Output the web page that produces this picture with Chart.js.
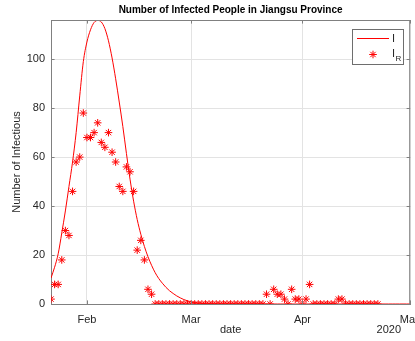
<!DOCTYPE html>
<html>
<head>
<meta charset="utf-8">
<script src="https://cdn.jsdelivr.net/npm/chart.js@4/dist/chart.umd.min.js"></script>
<style>
  html, body { margin: 0; padding: 0; background: #fff; }
  #wrap { width: 415px; height: 341px; }
</style>
</head>
<body>
<div id="wrap"><canvas id="c" width="415" height="341"></canvas></div>
<script>
// Day index 0 = 22 Jan 2020
const startDate = '2020-01-22';

// Reported infectious counts (I_R), one value per day from 22 Jan to 22 Apr
const observedI = [
  2, 8, 8, 18, 30, 28, 46, 58, 60, 78,
  68, 68, 70, 74, 66, 64, 70, 62, 58, 48,
  46, 56, 54, 46, 22, 26, 18, 6, 4, 0,
  0, 0, 0, 0, 0, 0, 0, 0, 0, 0,
  0, 0, 0, 0, 0, 0, 0, 0, 0, 0,
  0, 0, 0, 0, 0, 0, 0, 0, 0, 0,
  4, 0, 6, 4, 4, 2, 0, 6, 2, 2,
  0, 2, 8, 0, 0, 0, 0, 0, 0, 0,
  2, 2, 0, 0, 0, 0, 0, 0, 0, 0,
  0, 0
];

// Fitted model curve (I), one value per day from 22 Jan to 1 May
const modelI = [
  10.6, 15, 20.5, 29, 38, 48, 58, 70, 85, 99,
  107, 112, 115, 115.8, 115.2, 112.5, 107.5, 100.5, 92, 82.5,
  72.5, 61.5, 51, 42, 34.5, 28.5, 23.5, 19.3, 15.8, 12.8,
  10.4, 8.5, 6.8, 5.4, 4.3, 3.3, 2.5, 1.8, 1.3, 0.9,
  0.6, 0.4, 0.25, 0.15, 0.1, 0.05, 0, 0, 0, 0,
  0, 0, 0, 0, 0, 0, 0, 0, 0, 0,
  0, 0, 0, 0, 0, 0, 0, 0, 0, 0,
  0, 0, 0, 0, 0, 0, 0, 0, 0, 0,
  0, 0, 0, 0, 0, 0, 0, 0, 0, 0,
  0, 0, 0, 0, 0, 0, 0, 0, 0, 0,
  0
];

// Month ticks (day index of the 1st of each month) and their labels
const monthTickDays = [10, 39, 70, 100];
const monthTickLabels = ['Feb', 'Mar', 'Apr', 'May'];
const yTickValues = [0, 20, 40, 60, 80, 100];

const FONT = '"Liberation Sans", Arial, Helvetica, sans-serif';
const RED = '#ff0000';
const AXIS_GRAY = '#808080';
const TEXT = '#262626';

// Frame, inward tick marks, title, legend and year label
const decorations = {
  id: 'decorations',
  afterDatasetsDraw(chart) {
    const { ctx, chartArea: a, scales } = chart;
    ctx.save();
    ctx.strokeStyle = AXIS_GRAY;
    ctx.lineWidth = 1;
    ctx.beginPath();
    ctx.moveTo(a.left, a.top + 0.5); ctx.lineTo(a.right, a.top + 0.5);
    ctx.moveTo(a.right - 0.5, a.top); ctx.lineTo(a.right - 0.5, a.bottom);
    monthTickDays.forEach(d => {
      const px = Math.round(scales.x.getPixelForValue(d)) + 0.5;
      ctx.moveTo(px, a.bottom); ctx.lineTo(px, a.bottom - 3.6);
      ctx.moveTo(px, a.top); ctx.lineTo(px, a.top + 3.6);
    });
    yTickValues.forEach(v => {
      const py = Math.round(scales.y.getPixelForValue(v)) + 0.5;
      ctx.moveTo(a.left, py); ctx.lineTo(a.left + 3.6, py);
      ctx.moveTo(a.right, py); ctx.lineTo(a.right - 3.6, py);
    });
    ctx.stroke();

    // legend
    const bx = 352.5, by = 29.5, bw = 51, bh = 35;
    ctx.fillStyle = '#fff';
    ctx.fillRect(bx, by, bw, bh);
    ctx.strokeStyle = '#6e6e6e';
    ctx.strokeRect(bx, by, bw, bh);
    ctx.strokeStyle = RED;
    ctx.beginPath();
    ctx.moveTo(357, 38.5); ctx.lineTo(389, 38.5);
    ctx.stroke();
    Chart.helpers.drawPoint(ctx, { pointStyle: 'star', radius: 3.8, borderWidth: 1 }, 373, 54.5);
    ctx.fillStyle = TEXT;
    ctx.textBaseline = 'middle';
    ctx.textAlign = 'left';
    ctx.font = '11px ' + FONT;
    ctx.fillText('I', 392, 38.5);
    ctx.fillText('I', 392, 54);
    ctx.font = '8px ' + FONT;
    ctx.fillText('R', 395.5, 58.5);

    // title
    ctx.fillStyle = '#000';
    ctx.textAlign = 'center';
    ctx.font = 'bold 10px ' + FONT;
    ctx.fillText('Number of Infected People in Jiangsu Province', (a.left + a.right) / 2, 10);

    // year under the last month tick
    ctx.fillStyle = TEXT;
    ctx.textAlign = 'right';
    ctx.font = '11px ' + FONT;
    ctx.fillText('2020', 401, 330);
    ctx.restore();
  }
};

new Chart(document.getElementById('c'), {
  type: 'scatter',
  data: {
    datasets: [
      {
        label: 'I',
        type: 'line',
        data: modelI.map((v, i) => ({ x: i, y: v })),
        borderColor: RED,
        borderWidth: 1,
        pointRadius: 0,
        cubicInterpolationMode: 'monotone',
        fill: false,
        order: 2
      },
      {
        label: 'I_R',
        data: observedI.map((v, i) => ({ x: i, y: v })),
        showLine: false,
        pointStyle: 'star',
        pointRadius: 3.8,
        pointHoverRadius: 3.8,
        borderColor: RED,
        backgroundColor: RED,
        pointBorderWidth: 1,
        order: 1
      }
    ]
  },
  options: {
    responsive: false,
    animation: false,
    devicePixelRatio: 1,
    layout: { padding: { left: 0, right: 4, top: 20, bottom: 0 } },
    plugins: {
      legend: { display: false },
      title: { display: false },
      tooltip: { enabled: false }
    },
    scales: {
      x: {
        type: 'linear',
        min: 0,
        max: 100,
        afterBuildTicks: s => { s.ticks = monthTickDays.map(v => ({ value: v })); },
        afterFit: s => { s.height = 37; s.paddingLeft = 0; s.paddingRight = 0; },
        grid: { color: '#e3e3e3', drawTicks: false },
        border: { display: true, color: AXIS_GRAY, width: 1 },
        ticks: {
          autoSkip: false,
          maxRotation: 0,
          padding: 9,
          color: TEXT,
          font: { family: FONT, size: 11 },
          callback: v => monthTickLabels[monthTickDays.indexOf(v)]
        },
        title: {
          display: true,
          text: 'date',
          color: TEXT,
          font: { family: FONT, size: 11 },
          padding: { top: 0, bottom: 4 }
        }
      },
      y: {
        min: 0,
        max: 116,
        afterBuildTicks: s => { s.ticks = yTickValues.map(v => ({ value: v })); },
        afterFit: s => { s.width = 51; s.paddingTop = 0; s.paddingBottom = 0; },
        grid: { color: '#e3e3e3', drawTicks: false },
        border: { display: true, color: AXIS_GRAY, width: 1 },
        ticks: {
          padding: 6,
          color: TEXT,
          font: { family: FONT, size: 11 }
        },
        title: {
          display: true,
          text: 'Number of Infectious',
          color: TEXT,
          font: { family: FONT, size: 11 },
          padding: { top: 10, bottom: 0 }
        }
      }
    }
  },
  plugins: [decorations]
});
</script>
</body>
</html>
